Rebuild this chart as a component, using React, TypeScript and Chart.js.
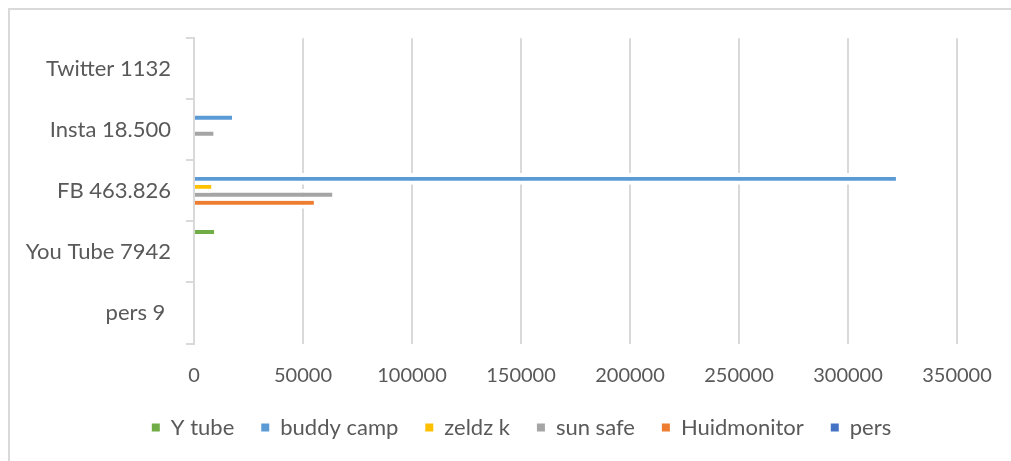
import React, { useEffect, useRef } from "react";
import { Chart, registerables } from "chart.js";

Chart.register(...registerables);

const categories = ["Twitter 1132", "Insta 18.500", "FB 463.826", "You Tube 7942", "pers 9 "];
const seriesNames = ["Y tube", "buddy camp", "zeldz k", "sun safe", "Huidmonitor", "pers"];
const seriesColors = ["#70AD47", "#5B9BD5", "#FFC000", "#A5A5A5", "#ED7D31", "#4472C4"];
const yTube = [null, null, null, 9300, null];
const buddyCamp = [null, 17500, 322000, null, null];
const zeldzK = [null, null, 8000, null, null];
const sunSafe = [null, 9000, 63500, null, null];
const huidmonitor = [null, null, 55000, null, null];
const pers = [null, null, null, null, null];
const xTicks = [0, 50000, 100000, 150000, 200000, 250000, 300000, 350000];

const seriesValues = [yTube, buddyCamp, zeldzK, sunSafe, huidmonitor, pers];

export default function App() {
  const ref = useRef<HTMLCanvasElement | null>(null);

  useEffect(() => {
    if (!ref.current) return;
    const textColor = "#595959";
    const gridColor = "#d9d9d9";
    const chart = new Chart(ref.current, {
      type: "bar",
      data: {
        labels: categories,
        datasets: seriesNames.map((name, i) => ({
          label: name,
          data: seriesValues[i],
          xAxisID: "x",
          yAxisID: "y",
          backgroundColor: seriesColors[i],
          borderColor: "#ffffff",
          borderWidth: { top: 4, bottom: 4, left: 0, right: 0 },
          borderSkipped: "start",
          barPercentage: 1.5,
          categoryPercentage: 0.784,
        })),
      },
      options: {
        indexAxis: "y",
        animation: false,
        responsive: false,
        layout: { padding: { top: 28, left: 0, right: 0, bottom: 12.5 } },
        scales: {
          x: {
            min: xTicks[0],
            max: xTicks[xTicks.length - 1],
            afterFit: (scale: any) => {
              scale.height = 46;
            },
            afterBuildTicks: (scale: any) => {
              scale.ticks = xTicks.map((v) => ({ value: v }));
            },
            ticks: {
              color: textColor,
              font: { family: "Lato", size: 20 },
              padding: 20,
              callback: (v: any) => String(v),
            },
            grid: { color: gridColor, lineWidth: 2, drawTicks: false },
            border: { display: false },
          },
          y: {
            afterFit: (scale: any) => {
              scale.width = 184;
            },
            ticks: {
              color: textColor,
              font: { family: "Lato", size: 22 },
              padding: 15,
            },
            grid: {
              offset: true,
              drawOnChartArea: false,
              tickLength: 8,
              color: gridColor,
              lineWidth: 2,
            },
            border: { display: true, color: gridColor, width: 2 },
          },
          yRight: {
            type: "linear",
            axis: "y",
            position: "right",
            display: true,
            afterFit: (scale: any) => {
              scale.width = 76;
            },
            ticks: { display: false },
            grid: { display: false, drawTicks: false },
            border: { display: false },
          },
        },
        plugins: {
          legend: {
            position: "bottom",
            labels: {
              color: textColor,
              font: { family: "Lato", size: 22 },
              boxWidth: 8,
              boxHeight: 8,
              padding: 27,
              generateLabels: (c: any) =>
                (Chart.defaults.plugins.legend.labels as any)
                  .generateLabels(c)
                  .map((l: any) => ({ ...l, lineWidth: 0, strokeStyle: l.fillStyle })),
            },
          },
          tooltip: { enabled: false },
        },
      },
    } as any);
    return () => chart.destroy();
  }, []);

  return (
    <div
      style={{
        position: "fixed",
        left: 8,
        top: 8,
        width: 1003,
        height: 453,
        boxSizing: "border-box",
        borderLeft: "2px solid #d9d9d9",
        borderTop: "2px solid #d9d9d9",
        background: "#ffffff",
        overflow: "hidden",
      }}
    >
      <canvas ref={ref} width={1023} height={451} style={{ display: "block" }} />
    </div>
  );
}
